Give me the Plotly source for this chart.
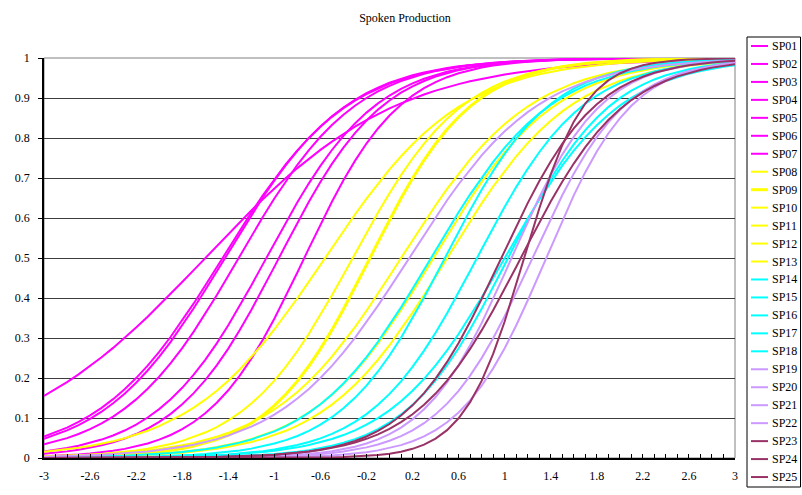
import numpy as np
import plotly.graph_objects as go

# Item labels and item-response parameters
# (difficulty = ability where P = 0.5, slope = logistic slope at that point)
items = ["SP01", "SP02", "SP03", "SP04", "SP05", "SP06", "SP07",
         "SP08", "SP09", "SP10", "SP11", "SP12", "SP13",
         "SP14", "SP15", "SP16", "SP17", "SP18",
         "SP19", "SP20", "SP21", "SP22",
         "SP23", "SP24", "SP25"]
difficulty = [-1.60, -1.45, -1.43, -1.31, -1.07, -0.96, -0.74,
              -0.56, -0.17, -0.32, 0.10, 0.38, 0.50,
              0.36, 0.48, 0.76, 1.00, 1.03,
              0.17, 1.06, 1.24, 1.36,
              0.97, 1.14, 1.17]
slope = [1.21, 1.85, 1.90, 1.98, 2.12, 2.22, 2.41,
         1.70, 2.28, 2.10, 1.80, 1.90, 1.87,
         1.94, 2.22, 2.18, 2.00, 2.26,
         1.80, 2.60, 2.50, 2.70,
         2.45, 2.23, 3.87]
groups = ["m"] * 7 + ["y"] * 6 + ["c"] * 5 + ["p"] * 4 + ["r"] * 3

# Ability categories on the horizontal axis (-3 .. 3, step 0.1)
theta = np.round(np.linspace(-3, 3, 61), 1)
tick_values = [-3, -2.6, -2.2, -1.8, -1.4, -1, -0.6, -0.2, 0.2, 0.6, 1, 1.4, 1.8, 2.2, 2.6, 3]
tick_labels = ["-3", "-2.6", "-2.2", "-1.8", "-1.4", "-1", "-0.6", "-0.2",
               "0.2", "0.6", "1", "1.4", "1.8", "2.2", "2.6", "3"]
y_ticks = [0, 0.1, 0.2, 0.3, 0.4, 0.5, 0.6, 0.7, 0.8, 0.9, 1]
y_labels = ["0", "0.1", "0.2", "0.3", "0.4", "0.5", "0.6", "0.7", "0.8", "0.9", "1"]

colors = {"m": "#FF00FF", "y": "#FFFF00", "c": "#00FFFF", "p": "#CC99FF", "r": "#993366"}
FONT = "Liberation Serif, Times New Roman, serif"

fig = go.Figure()
for name, b, k, g in zip(items, difficulty, slope, groups):
    p = 1.0 / (1.0 + np.exp(-k * (theta - b)))
    fig.add_trace(go.Scatter(
        x=theta, y=p, mode="lines", name=name, showlegend=False,
        line=dict(color=colors[g], width=3 if name == "SP09" else 2),
        hoverinfo="x+y+name"))

W, H = 802, 495
L, R, T, B = 44, 67, 58, 37
pw, ph = W - L - R, H - T - B


def px(xp):
    return (xp - L) / pw


def py(yp):
    return (H - B - yp) / ph


shapes = [
    dict(type="rect", xref="paper", yref="paper", x0=0, x1=1, y0=0, y1=1,
         line=dict(color="#808080", width=1), layer="below"),
    dict(type="rect", xref="paper", yref="paper", x0=px(747), x1=px(800.5),
         y0=py(487), y1=py(37), line=dict(color="black", width=1),
         fillcolor="white"),
]
annotations = []
for i, (name, g) in enumerate(zip(items, groups)):
    yy = 46 + i * 17.96
    shapes.append(dict(type="line", xref="paper", yref="paper",
                       x0=px(751), x1=px(768), y0=py(yy), y1=py(yy),
                       line=dict(color=colors[g], width=3 if name == "SP09" else 2)))
    annotations.append(dict(xref="paper", yref="paper", x=px(770), y=py(yy),
                            text=name, showarrow=False, xanchor="left",
                            yanchor="middle", font=dict(family=FONT, size=12, color="black")))

fig.update_layout(
    width=W, height=H,
    margin=dict(l=L, r=R, t=T, b=B, autoexpand=False),
    paper_bgcolor="white", plot_bgcolor="white",
    title=dict(text="Spoken Production", x=405 / W, xanchor="center",
               y=1 - 18 / H, yanchor="middle",
               font=dict(family=FONT, size=12, color="black")),
    font=dict(family=FONT, size=12, color="black"),
    shapes=shapes, annotations=annotations,
    showlegend=False,
)
fig.update_xaxes(
    range=[-3, 3], tickmode="array", tickvals=tick_values, ticktext=tick_labels,
    ticks="inside", ticklen=4, tickcolor="black", showgrid=False, zeroline=False,
    showline=True, linecolor="black", linewidth=1.5, ticklabelstandoff=6,
    minor=dict(tick0=-3, dtick=0.1, ticks="inside", ticklen=4, tickcolor="black"),
    tickfont=dict(family=FONT, size=12, color="black"), automargin=False,
)
fig.update_yaxes(
    range=[0, 1], tickmode="array", tickvals=y_ticks, ticktext=y_labels,
    ticks="outside", ticklen=4, tickcolor="black",
    showgrid=True, gridcolor="#3c3c3c", gridwidth=1, zeroline=False,
    showline=True, linecolor="black", linewidth=1.5, ticklabelstandoff=6,
    tickfont=dict(family=FONT, size=12, color="black"), automargin=False,
)

# remove the page's default body margin so the figure sits at the window origin
fig.write_html("out.html",
               config={"displayModeBar": False},
               post_script="document.body.style.margin='0';"
                           "document.body.style.overflow='hidden';")
